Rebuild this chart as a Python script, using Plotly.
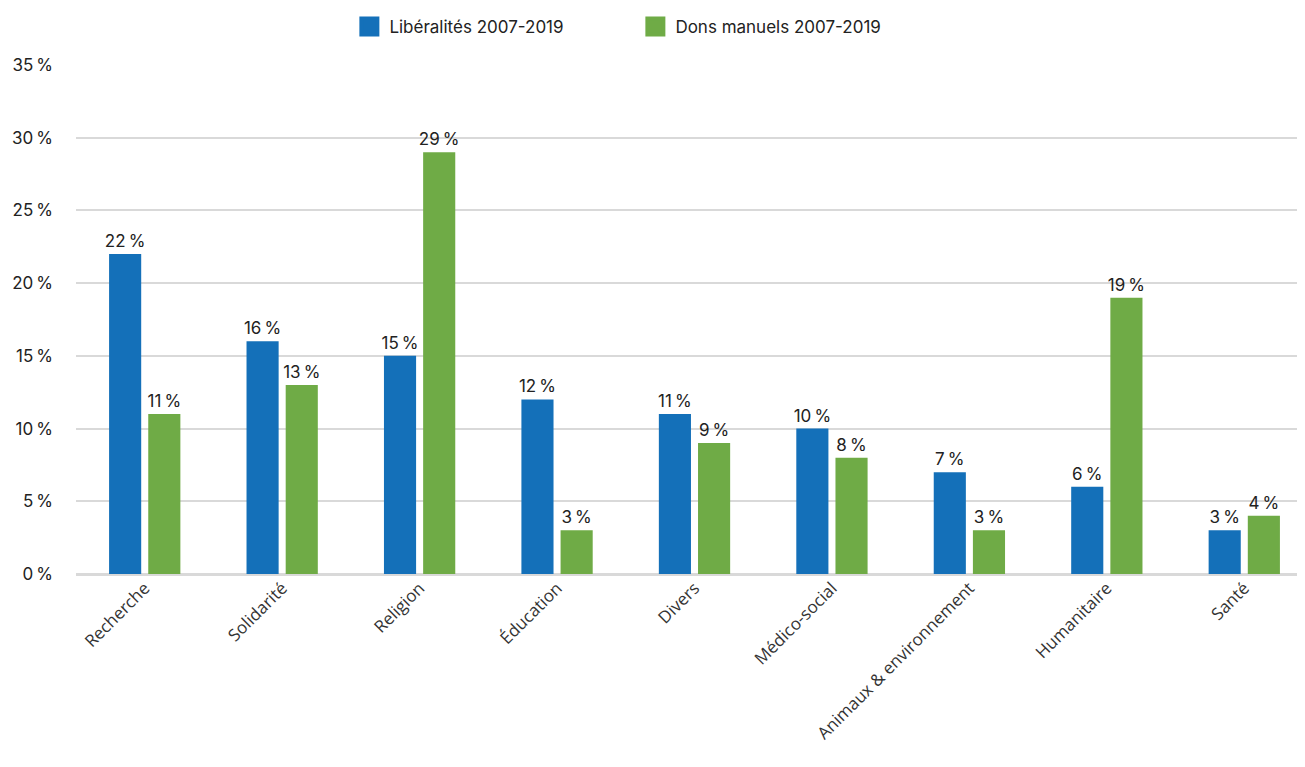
import plotly.graph_objects as go

categories = ["Recherche", "Solidarité", "Religion", "Éducation", "Divers",
              "Médico-social", "Animaux & environnement", "Humanitaire", "Santé"]
liberalites = [22, 16, 15, 12, 11, 10, 7, 6, 3]
dons_manuels = [11, 13, 29, 3, 9, 8, 3, 19, 4]
y_ticks = [0, 5, 10, 15, 20, 25, 30, 35]

BLUE = "#1470b9"
GREEN = "#6fab46"
NB = "\u202f"

fig = go.Figure()

for name, values, color in [("Libéralités 2007-2019", liberalites, BLUE),
                            ("Dons manuels 2007-2019", dons_manuels, GREEN)]:
    fig.add_trace(go.Bar(
        x=categories, y=values, name=name,
        marker=dict(color=color, line=dict(width=0)),
        text=[f"{v}{NB}%" for v in values],
        textposition="outside",
        textfont=dict(size=17, color="#222222", family="Inter"),
        cliponaxis=False,
        showlegend=False,
    ))
    # legend entry with a larger square swatch
    fig.add_trace(go.Scatter(
        x=[None], y=[None], mode="markers", name=name,
        marker=dict(symbol="square", size=20, color=color,
                    line=dict(width=4, color=color)),
    ))

fig.update_layout(
    width=1305, height=767,
    margin=dict(l=68, r=0, t=57, b=201),
    plot_bgcolor="white", paper_bgcolor="white",
    barmode="group", bargap=0.43, bargroupgap=0.18,
    uniformtext=dict(minsize=17, mode="show"),
    font=dict(family="Open Sans", color="#222222"),
    legend=dict(
        orientation="h", x=0.221, xanchor="left", y=1.075, yanchor="middle",
        font=dict(size=17, family="Inter", color="#222222"),
        itemwidth=30, entrywidth=241, traceorder="normal",
    ),
    xaxis=dict(
        tickangle=-45, tickfont=dict(size=17, family="Open Sans", color="#333333"),
        showgrid=False, showline=False, ticks="", automargin=False,
    ),
    yaxis=dict(
        range=[0, 35], tickvals=y_ticks,
        ticktext=[f"{v}{NB}%" for v in y_ticks],
        tickfont=dict(size=17, family="Inter", color="#222222"),
        showgrid=True, gridcolor="#d9d9d9", gridwidth=2,
        zeroline=True, zerolinecolor="#d9d9d9", zerolinewidth=3,
        ticklabelstandoff=22, showline=False, automargin=False,
    ),
)

fig.write_html("out.html")
